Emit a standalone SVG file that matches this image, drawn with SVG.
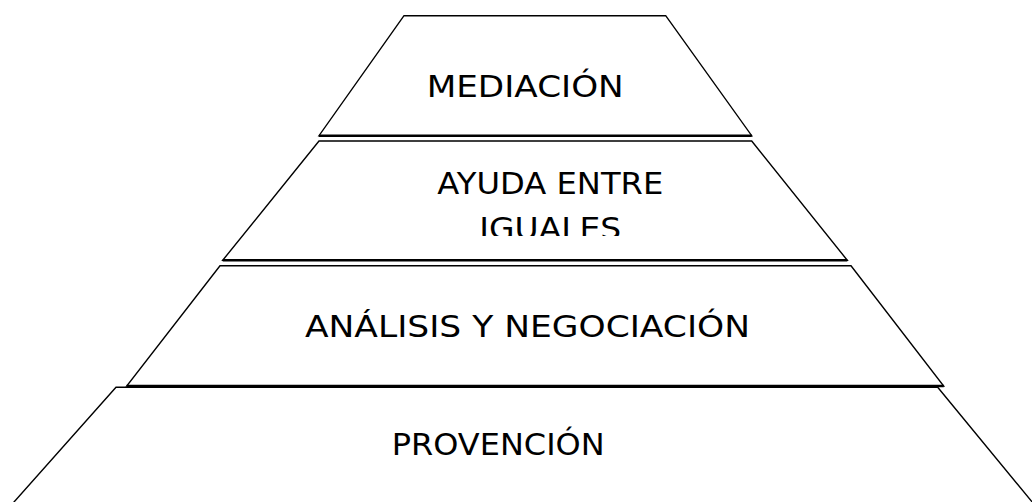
<svg xmlns="http://www.w3.org/2000/svg" width="1032" height="502" viewBox="0 0 1032 502">
<style>
.lvl{fill:#fff;stroke:#000;stroke-width:1.4;stroke-linejoin:miter}
.base{stroke:#000;stroke-width:2.4;fill:none}
.lbl{font-family:"Comic Sans MS","DejaVu Sans",sans-serif;font-size:31px;fill:#000}
</style>
<defs>
<clipPath id="clipT2"><rect x="222" y="141" width="630" height="95"/></clipPath>
</defs>
<rect width="1032" height="502" fill="#fff"/>
<g id="level4">
<polygon class="lvl" points="116,387.3 937.7,387.3 1047,520 -2,520"/>
<text class="lbl" x="391.7" y="455" textLength="213" lengthAdjust="spacingAndGlyphs">PROVENCIÓN</text>
</g>
<g id="level3">
<polygon class="lvl" points="220,265.7 851,265.7 943.7,386 126.7,386"/>
<line class="base" x1="126.7" y1="386" x2="943.7" y2="386"/>
<text class="lbl" x="305" y="337" textLength="445" lengthAdjust="spacingAndGlyphs">ANÁLISIS Y NEGOCIACIÓN</text>
</g>
<g id="level2">
<polygon class="lvl" points="319,141 751.7,141 847.3,260.3 222.7,260.3"/>
<line class="base" x1="222.7" y1="260.3" x2="847.3" y2="260.3"/>
<g clip-path="url(#clipT2)">
<text class="lbl" x="437.3" y="194.3" textLength="226" lengthAdjust="spacingAndGlyphs">AYUDA ENTRE</text>
<text class="lbl" x="479.3" y="239" textLength="142" lengthAdjust="spacingAndGlyphs">IGUALES</text>
</g>
</g>
<g id="level1">
<polygon class="lvl" points="404,15.7 665.7,15.7 751.7,135.7 319,135.7"/>
<line class="base" x1="319" y1="135.7" x2="751.7" y2="135.7"/>
<text class="lbl" x="426.7" y="96.7" textLength="197" lengthAdjust="spacingAndGlyphs">MEDIACIÓN</text>
</g>
<g id="connectors"/>
</svg>
